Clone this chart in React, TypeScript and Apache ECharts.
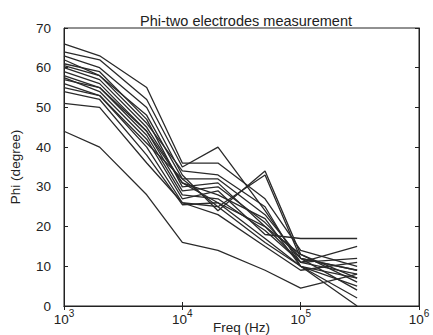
import React, { useEffect, useRef } from "react";
import * as echarts from "echarts";

const freqs = [1000, 2000, 5000, 10000, 20000, 50000, 100000, 300000];

const s1 = [66, 63, 55, 36, 36, 27, 14, 10];
const s2 = [64, 62, 52, 35, 40, 24, 11, 8];
const s3 = [63, 60, 50, 33, 24, 34, 13, 6];
const s4 = [62, 58, 48, 32, 25, 33, 12, 9];
const s5 = [61, 59, 47, 30, 31, 20, 11, 12];
const s6 = [60.5, 58, 46, 34, 33, 25, 10, 7];
const s7 = [60, 57, 45, 31, 28, 22, 10, 5];
const s8 = [59, 56, 44, 29, 30, 21, 12, 4];
const s9 = [58, 55, 43, 28, 27, 19, 11, 15];
const s10 = [57.5, 54, 42, 27, 29, 18, 17, 17];
const s11 = [57, 55, 44, 31, 26, 17, 10, 2];
const s12 = [56, 53, 40, 26, 25, 16, 10, 0];
const s13 = [55, 53, 41, 32, 32, 23, 12, 9];
const s14 = [54, 52, 38, 25.5, 26, 20, 13, 7];
const s15 = [51, 50, 36, 26, 23, 15, 9, 11];
const s16 = [44, 40, 28, 16, 14, 9, 4.5, 8];

const allSeries = [s1, s2, s3, s4, s5, s6, s7, s8, s9, s10, s11, s12, s13, s14, s15, s16];

const yTicks = [0, 10, 20, 30, 40, 50, 60, 70];
const xExponents = [3, 4, 5, 6];

const TITLE = "Phi-two electrodes measurement";
const X_NAME = "Freq (Hz)";
const Y_NAME = "Phi (degree)";

export default function App() {
  const ref = useRef<HTMLDivElement>(null);
  useEffect(() => {
    if (!ref.current) return;
    const chart = echarts.init(ref.current, undefined, { renderer: "svg" });
    const font = "Liberation Sans, Arial, sans-serif";
    const ink = "#222";
    chart.setOption({
      animation: false,
      backgroundColor: "#fff",
      title: {
        text: TITLE,
        left: 241,
        textAlign: "center",
        top: 8,
        textStyle: { fontFamily: font, fontSize: 14.5, fontWeight: "normal", color: ink },
      },
      grid: {
        left: 64,
        right: 14,
        top: 28,
        bottom: 29,
        outerBoundsMode: "none",
        containLabel: false,
        show: true,
        borderColor: ink,
        borderWidth: 1,
      },
      xAxis: [
        {
          type: "log",
          logBase: 10,
          min: 1000,
          max: 1000000,
          name: X_NAME,
          nameLocation: "middle",
          nameGap: 14,
          nameMoveOverlap: false,
          nameTextStyle: { fontFamily: font, fontSize: 13.5, color: ink },
          axisLine: { show: true, lineStyle: { color: ink } },
          axisTick: { show: true, inside: true, length: 4, lineStyle: { color: ink } },
          minorTick: { show: false },
          splitLine: { show: false },
          axisLabel: {
            margin: 2,
            fontFamily: font,
            color: ink,
            formatter: (v: number) => {
              const e = Math.round(Math.log10(v));
              return xExponents.includes(e) ? `{b|10}{s|${e}}` : "";
            },
            rich: {
              b: { fontFamily: font, fontSize: 13.5, color: ink, padding: [4, 0, 0, 0] },
              s: { fontFamily: font, fontSize: 10, color: ink, verticalAlign: "top" },
            },
          },
        },
        {
          type: "log",
          logBase: 10,
          min: 1000,
          max: 1000000,
          position: "top",
          axisLine: { show: true, lineStyle: { color: ink } },
          axisTick: { show: true, inside: true, length: 4, lineStyle: { color: ink } },
          axisLabel: { show: false },
          splitLine: { show: false },
        },
      ],
      yAxis: [
        {
          type: "value",
          min: yTicks[0],
          max: yTicks[yTicks.length - 1],
          interval: 10,
          name: Y_NAME,
          nameLocation: "middle",
          nameGap: 42,
          nameRotate: 90,
          nameMoveOverlap: false,
          nameTextStyle: { fontFamily: font, fontSize: 13.5, color: ink },
          axisLine: { show: true, lineStyle: { color: ink } },
          axisTick: { show: true, inside: true, length: 4, lineStyle: { color: ink } },
          splitLine: { show: false },
          axisLabel: { margin: 13, fontFamily: font, fontSize: 13.5, color: ink },
        },
        {
          type: "value",
          min: yTicks[0],
          max: yTicks[yTicks.length - 1],
          interval: 10,
          position: "right",
          axisLine: { show: true, lineStyle: { color: ink } },
          axisTick: { show: true, inside: true, length: 4, lineStyle: { color: ink } },
          splitLine: { show: false },
          axisLabel: { show: false },
        },
      ],
      series: allSeries.map((vals, i) => ({
        name: `m${i + 1}`,
        type: "line",
        xAxisIndex: 0,
        yAxisIndex: 0,
        data: freqs.map((f, j) => [f, vals[j]]),
        showSymbol: false,
        symbol: "none",
        lineStyle: { color: "#2a2a2a", width: 1.3 },
        silent: true,
      })),
    });
    return () => chart.dispose();
  }, []);
  return <div ref={ref} style={{ width: 433, height: 335, position: "absolute", left: 0, top: 0 }} />;
}
